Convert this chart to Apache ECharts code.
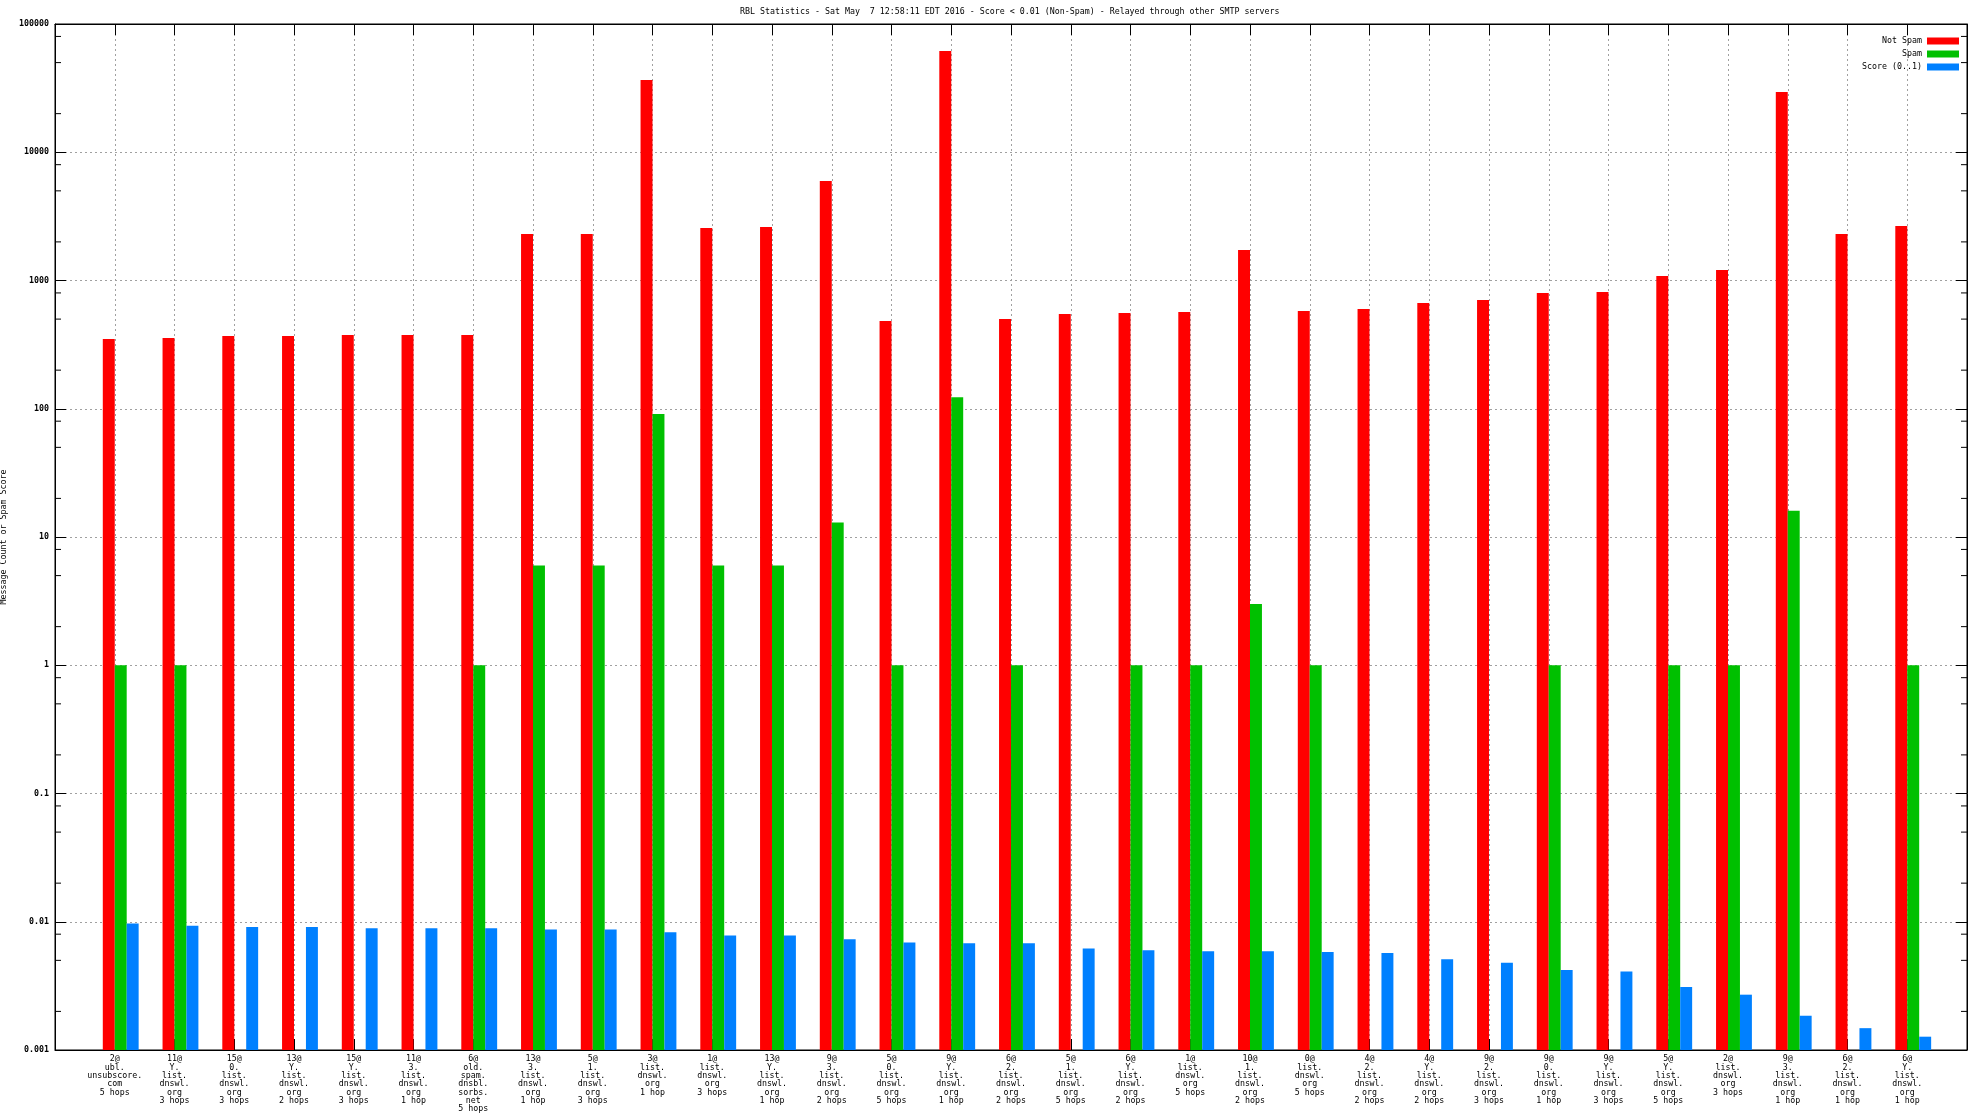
<!DOCTYPE html>
<html>
<head>
<meta charset="utf-8">
<script src="https://cdn.jsdelivr.net/npm/echarts@6/dist/echarts.min.js"></script>
<style>
html,body{margin:0;padding:0;background:#ffffff;}
#chart{width:1984px;height:1116px;}
</style>
</head>
<body>
<div id="chart"></div>
<script>
// ---------------- data ----------------
const titleText = 'RBL Statistics - Sat May  7 12:58:11 EDT 2016 - Score < 0.01 (Non-Spam) - Relayed through other SMTP servers';
const yAxisTitle = 'Message Count or Spam Score';
const seriesNames = ['Not Spam', 'Spam', 'Score (0..1)'];

const categories = [
  '2@\nubl.\nunsubscore.\ncom\n5 hops',
  '11@\nY.\nlist.\ndnswl.\norg\n3 hops',
  '15@\n0.\nlist.\ndnswl.\norg\n3 hops',
  '13@\nY.\nlist.\ndnswl.\norg\n2 hops',
  '15@\nY.\nlist.\ndnswl.\norg\n3 hops',
  '11@\n3.\nlist.\ndnswl.\norg\n1 hop',
  '6@\nold.\nspam.\ndnsbl.\nsorbs.\nnet\n5 hops',
  '13@\n3.\nlist.\ndnswl.\norg\n1 hop',
  '5@\n1.\nlist.\ndnswl.\norg\n3 hops',
  '3@\nlist.\ndnswl.\norg\n1 hop',
  '1@\nlist.\ndnswl.\norg\n3 hops',
  '13@\nY.\nlist.\ndnswl.\norg\n1 hop',
  '9@\n3.\nlist.\ndnswl.\norg\n2 hops',
  '5@\n0.\nlist.\ndnswl.\norg\n5 hops',
  '9@\nY.\nlist.\ndnswl.\norg\n1 hop',
  '6@\n2.\nlist.\ndnswl.\norg\n2 hops',
  '5@\n1.\nlist.\ndnswl.\norg\n5 hops',
  '6@\nY.\nlist.\ndnswl.\norg\n2 hops',
  '1@\nlist.\ndnswl.\norg\n5 hops',
  '10@\n1.\nlist.\ndnswl.\norg\n2 hops',
  '0@\nlist.\ndnswl.\norg\n5 hops',
  '4@\n2.\nlist.\ndnswl.\norg\n2 hops',
  '4@\nY.\nlist.\ndnswl.\norg\n2 hops',
  '9@\n2.\nlist.\ndnswl.\norg\n3 hops',
  '9@\n0.\nlist.\ndnswl.\norg\n1 hop',
  '9@\nY.\nlist.\ndnswl.\norg\n3 hops',
  '5@\nY.\nlist.\ndnswl.\norg\n5 hops',
  '2@\nlist.\ndnswl.\norg\n3 hops',
  '9@\n3.\nlist.\ndnswl.\norg\n1 hop',
  '6@\n2.\nlist.\ndnswl.\norg\n1 hop',
  '6@\nY.\nlist.\ndnswl.\norg\n1 hop'
];

const notSpam = [350, 356, 369, 369, 376, 376, 376, 2306, 2306, 36600,
                 2566, 2610, 5970, 483, 61500, 501, 548, 558, 568, 1730,
                 578, 600, 668, 705, 800, 813, 1084, 1208, 29500, 2306, 2660];

const spam = [1, 1, null, null, null, null, 1, 6, 6, 91,
              6, 6, 13, 1, 123, 1, null, 1, 1, 3,
              1, null, null, null, 1, null, 1, 1, 16, null, 1];

const score = [0.0097, 0.0093, 0.0091, 0.0091, 0.0089, 0.0089, 0.0089, 0.0087, 0.0087, 0.0083,
               0.0078, 0.0078, 0.0073, 0.0069, 0.0068, 0.0068, 0.0062, 0.0060, 0.0059, 0.0059,
               0.0058, 0.0057, 0.0051, 0.0048, 0.0042, 0.0041, 0.0031, 0.0027, 0.00185, 0.00148, 0.00127];

const yMin = 0.001;
const yMax = 100000;
const minorMultipliers = [2, 5, 8];
const decades = [0.001, 0.01, 0.1, 1, 10, 100, 1000, 10000];

// ---------------- styling ----------------
const FONT = '"DejaVu Sans Mono", "Liberation Mono", monospace';
const FS = 8.3;
const colors = ['#ff0000', '#00c000', '#0080ff'];
// bar extents relative to category position (in category units)
const barSlots = [[-0.2, 0], [0, 0.2], [0.2, 0.4]];

function barSeries(name, values, slot, color) {
  const data = [];
  values.forEach((v, i) => { if (v != null) data.push([i, v]); });
  return {
    name: name,
    type: 'custom',
    xAxisIndex: 0,
    yAxisIndex: 0,
    itemStyle: { color: color },
    z: 3,
    data: data,
    renderItem: function (params, api) {
      const i = api.value(0), v = api.value(1);
      const pTop = api.coord([i + slot[0], v]);
      const pBase = api.coord([i + slot[1], yMin]);
      return {
        type: 'rect',
        shape: { x: pTop[0], y: pTop[1], width: pBase[0] - pTop[0], height: pBase[1] - pTop[1] },
        style: { fill: color }
      };
    }
  };
}

const minorTickData = [];
decades.forEach(d => minorMultipliers.forEach(m => minorTickData.push([-1, d * m])));

const minorTicks = {
  name: 'minorTicks',
  type: 'custom',
  xAxisIndex: 0,
  yAxisIndex: 0,
  z: 5,
  silent: true,
  clip: false,
  data: minorTickData,
  renderItem: function (params, api) {
    const v = api.value(1);
    const pl = api.coord([-1, v]);
    const pr = api.coord([categories.length, v]);
    return {
      type: 'group',
      children: [
        { type: 'line', shape: { x1: pl[0], y1: pl[1], x2: pl[0] + 6, y2: pl[1] }, style: { stroke: '#000', lineWidth: 1 } },
        { type: 'line', shape: { x1: pr[0] - 6, y1: pr[1], x2: pr[0], y2: pr[1] }, style: { stroke: '#000', lineWidth: 1 } }
      ]
    };
  }
};

const gridLine = { show: true, lineStyle: { color: '#a0a0a0', width: 1, type: [2, 3] } };
const axisLineStyle = { show: true, onZero: false, lineStyle: { color: '#000', width: 1 } };

const option = {
  backgroundColor: '#ffffff',
  animation: false,
  title: {
    text: titleText,
    left: 735,
    top: 2,
    textStyle: { fontFamily: FONT, fontSize: FS, fontWeight: 'normal', color: '#000', lineHeight: 9 }
  },
  legend: {
    data: seriesNames,
    orient: 'vertical',
    align: 'right',
    right: 20,
    top: 32,
    itemWidth: 32,
    itemHeight: 7,
    itemGap: 5,
    icon: 'rect',
    textStyle: { fontFamily: FONT, fontSize: FS, color: '#000', lineHeight: 8 }
  },
  grid: {
    left: 55, right: 17, top: 24, bottom: 66,
    containLabel: false,
    outerBoundsMode: 'none',
    show: true, borderColor: '#000', borderWidth: 1, backgroundColor: 'transparent'
  },
  xAxis: [
    {
      type: 'value',
      min: -1,
      max: categories.length,
      interval: 1,
      position: 'bottom',
      axisLine: axisLineStyle,
      axisTick: { show: true, inside: true, length: 11, lineStyle: { color: '#000' } },
      splitLine: gridLine,
      axisLabel: {
        show: true,
        margin: 5,
        color: '#000',
        fontFamily: FONT,
        fontSize: FS,
        lineHeight: 8.33,
        align: 'center',
        formatter: function (v) { return categories[v] !== undefined ? categories[v] : ''; }
      }
    },
    {
      type: 'value',
      min: -1,
      max: categories.length,
      interval: 1,
      position: 'top',
      axisLine: axisLineStyle,
      axisTick: { show: true, inside: true, length: 11, lineStyle: { color: '#000' } },
      splitLine: { show: false },
      axisLabel: { show: false }
    }
  ],
  yAxis: [
    {
      type: 'log',
      logBase: 10,
      min: yMin,
      max: yMax,
      position: 'left',
      name: yAxisTitle,
      nameLocation: 'middle',
      nameRotate: 90,
      nameGap: 42,
      nameTextStyle: { fontFamily: FONT, fontSize: FS, color: '#000' },
      axisLine: axisLineStyle,
      axisTick: { show: true, inside: true, length: 11, lineStyle: { color: '#000' } },
      minorTick: { show: false },
      splitLine: gridLine,
      axisLabel: {
        margin: 6,
        color: '#000',
        fontFamily: FONT,
        fontSize: FS,
        fontWeight: 'bold',
        formatter: function (v) { return String(Number(Number(v).toPrecision(1))); }
      }
    },
    {
      type: 'log',
      logBase: 10,
      min: yMin,
      max: yMax,
      position: 'right',
      axisLine: axisLineStyle,
      axisTick: { show: true, inside: true, length: 11, lineStyle: { color: '#000' } },
      splitLine: { show: false },
      axisLabel: { show: false }
    }
  ],
  series: [
    barSeries(seriesNames[0], notSpam, barSlots[0], colors[0]),
    barSeries(seriesNames[1], spam, barSlots[1], colors[1]),
    barSeries(seriesNames[2], score, barSlots[2], colors[2]),
    minorTicks
  ]
};

const chart = echarts.init(document.getElementById('chart'), null, { renderer: 'canvas' });
chart.setOption(option);
</script>
</body>
</html>
